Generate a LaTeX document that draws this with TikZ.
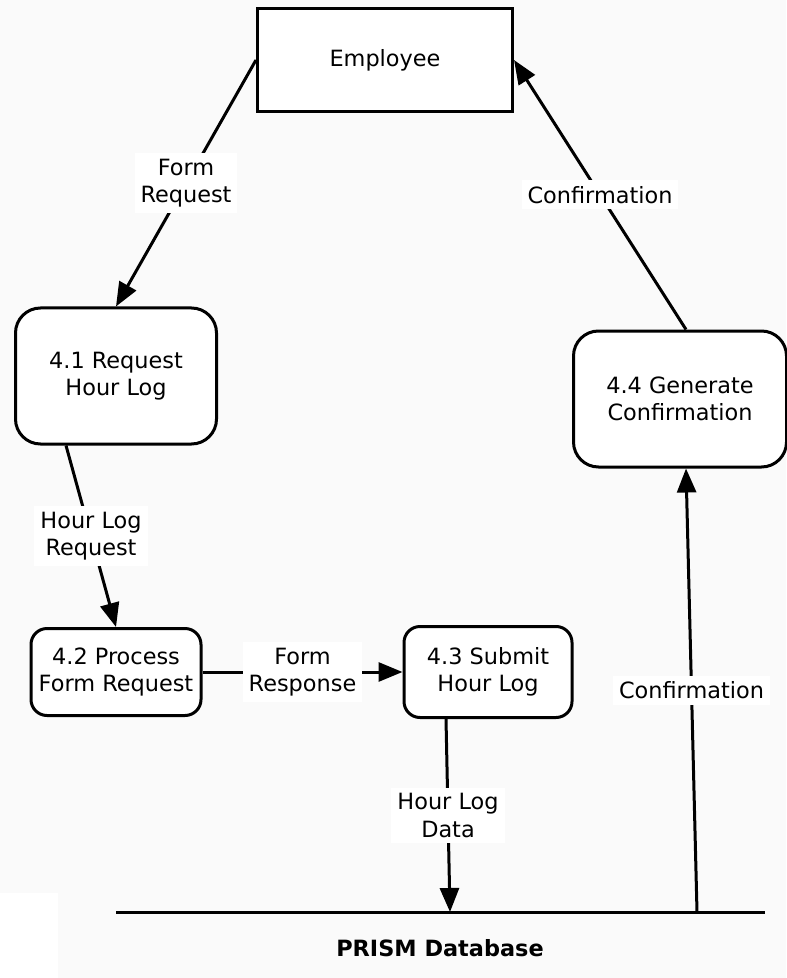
\documentclass[tikz,border=0pt]{standalone}
\usepackage{fontspec}
\setmainfont{DejaVu Sans}
\usetikzlibrary{arrows.meta}

\begin{document}
\begin{tikzpicture}[x=0.5pt,y=-0.5pt,font=\fontsize{11.2pt}{13.6pt}\selectfont,
	procbox/.style={draw,line width=1.5pt,fill=white,align=center},
	flow/.style={line width=1.5pt,-{Triangle[length=12pt,width=9.5pt]}},
	flowlabel/.style={fill=white,align=center,inner sep=3pt}]
	\useasboundingbox (0,0) rectangle (786,978);
	\fill[black!2] (0,0) rectangle (786,978);
	\fill[white] (0,893) rectangle (58,978);
	\node[procbox,minimum width=127.5pt,minimum height=51.5pt] (emp) at (385,60) {Employee};
	\node[procbox,rounded corners=12.5pt,minimum width=100.5pt,minimum height=68pt] (req) at (116,376) {4.1 Request\\Hour Log};
	\node[procbox,rounded corners=8pt,minimum width=85pt,minimum height=43.5pt] (proc) at (116,672) {4.2 Process\\Form Request};
	\node[procbox,rounded corners=8pt,minimum width=84pt,minimum height=45.5pt] (sub) at (488,672) {4.3 Submit\\Hour Log};
	\node[procbox,rounded corners=12.5pt,minimum width=106.5pt,minimum height=68pt] (gen) at (680,399) {4.4 Generate\\Confirmation};
	\coordinate (dbL) at (116,912);
	\coordinate (dbR) at (765,912);
	\coordinate (db1) at (450,912);
	\coordinate (db2) at (697,912);
	\draw[line width=1.5pt] (dbL) -- (dbR);
	\node[font=\fontsize{11.2pt}{13.6pt}\selectfont\bfseries] (dbname) at (440,948) {PRISM Database};
	\draw[flow] (emp.west) -- node[flowlabel] {Form\\Request} (req.north);
	\draw[flow] ([xshift=3pt]gen.north) -- node[flowlabel] {Confirmation} (emp.east);
	\draw[flow] ([xshift=-25pt]req.south) -- node[flowlabel] {Hour Log\\Request} (proc.north);
	\draw[flow] (proc.east) -- node[flowlabel] {Form\\Response} (sub.west);
	\draw[flow] ([xshift=-21pt]sub.south) -- node[flowlabel] {Hour Log\\Data} (db1);
	\draw[flow] (db2) -- node[flowlabel] {Confirmation} ([xshift=3pt]gen.south);
\end{tikzpicture}
\end{document}
